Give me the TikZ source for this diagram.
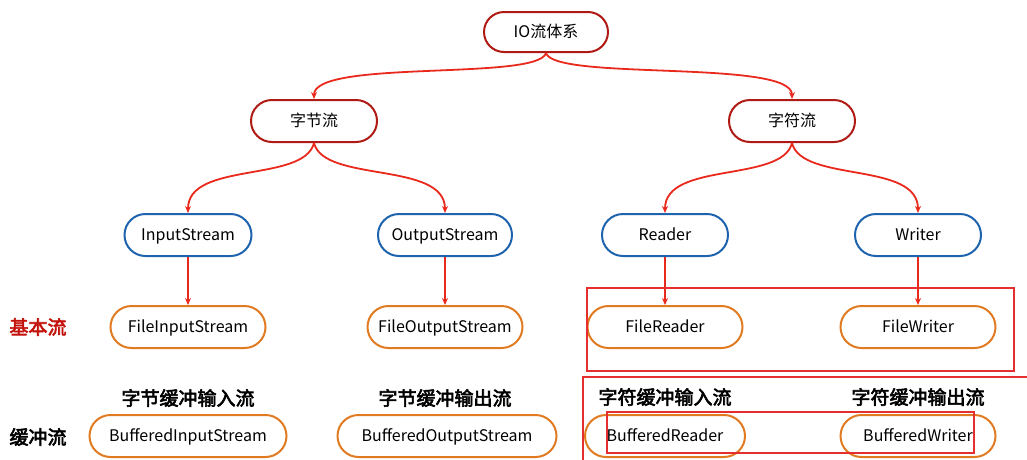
\documentclass[tikz,border=0pt]{standalone}
\usepackage{fontspec}
\setmainfont{Noto Sans CJK SC}
\newfontfamily\heavy[FakeBold=3]{Noto Sans CJK SC}
\usetikzlibrary{shapes.misc,arrows.meta}
\definecolor{topred}{HTML}{B01A14}
\definecolor{linkred}{HTML}{E8291C}
\definecolor{bluec}{HTML}{1E63AE}
\definecolor{orangec}{HTML}{E07B22}
\definecolor{boxred}{HTML}{E52E2E}
\definecolor{labred}{HTML}{C3120C}
\begin{document}
\begin{tikzpicture}[x=1pt,y=-1pt,
  pill/.style={rounded rectangle,draw,line width=2pt,minimum height=42pt,inner sep=0pt,text height=14pt,text depth=2.3pt,font=\fontsize{16}{16}\selectfont,text=black},
  toplev/.style={pill,draw=topred},
  mid/.style={pill,draw=bluec},
  leaf/.style={pill,draw=orangec},
  link/.style={draw=linkred,line width=1.8pt,-{Stealth[length=7pt,width=6pt]}},
  tag/.style={font=\heavy\fontsize{19}{19}\selectfont,text=black},
  annot/.style={draw=boxred,line width=1.5pt}]
\useasboundingbox (0,0) rectangle (1027,459);
% top levels
\node[toplev,minimum width=124pt,minimum height=40pt] (io) at (546,32) {IO流体系};
\node[toplev,minimum width=126pt] (byte) at (314,121) {字节流};
\node[toplev,minimum width=126pt] (char) at (792,121) {字符流};
% abstract classes
\node[mid,minimum width=127pt] (is) at (188,235) {InputStream};
\node[mid,minimum width=134pt] (os) at (445,235) {OutputStream};
\node[mid,minimum width=126pt] (rd) at (665,235) {Reader};
\node[mid,minimum width=126pt] (wr) at (918,235) {Writer};
% basic streams
\node[leaf,minimum width=155pt] (fis) at (188,327) {FileInputStream};
\node[leaf,minimum width=155pt] (fos) at (445,327) {FileOutputStream};
\node[leaf,minimum width=155pt] (fr) at (665,327) {FileReader};
\node[leaf,minimum width=155pt] (fw) at (918,327) {FileWriter};
% buffered streams
\node[leaf,minimum width=197pt] (bis) at (188,436) {BufferedInputStream};
\node[leaf,minimum width=219pt] (bos) at (447,436) {BufferedOutputStream};
\node[leaf,minimum width=160pt] (br) at (665,436) {BufferedReader};
\node[leaf,minimum width=155pt] (bw) at (918,436) {BufferedWriter};
% side labels
\node[tag,text=labred] (lbasic) at (38,327) {基本流};
\node[tag] (lbuf) at (38,437) {缓冲流};
\node[tag] (t1) at (188,398) {字节缓冲输入流};
\node[tag] (t2) at (445,398) {字节缓冲输出流};
\node[tag] (t3) at (665,397) {字符缓冲输入流};
\node[tag] (t4) at (918,397) {字符缓冲输出流};
% connectors
\draw[link] (io.south) .. controls +(-8,28) and +(0,-40) .. (byte.north);
\draw[link] (io.south) .. controls +(8,28) and +(0,-40) .. (char.north);
\draw[link] (byte.south) .. controls +(-10,40) and +(0,-52) .. (is.north);
\draw[link] (byte.south) .. controls +(10,40) and +(0,-52) .. (os.north);
\draw[link] (char.south) .. controls +(-10,40) and +(0,-52) .. (rd.north);
\draw[link] (char.south) .. controls +(10,40) and +(0,-52) .. (wr.north);
\draw[link] (is.south) -- (fis.north);
\draw[link] (os.south) -- (fos.north);
\draw[link] (rd.south) -- (fr.north);
\draw[link] (wr.south) -- (fw.north);
% annotation boxes
\coordinate (r1a) at (587,288);
\coordinate (r1b) at (1014,371);
\draw[annot] (r1a) rectangle (r1b);
\coordinate (r2a) at (583,377);
\draw[annot] (1030,377) -- (r2a) -- (583,462);
\coordinate (r3a) at (607,412);
\coordinate (r3b) at (974,453);
\draw[annot] (r3a) rectangle (r3b);
\end{tikzpicture}
\end{document}
